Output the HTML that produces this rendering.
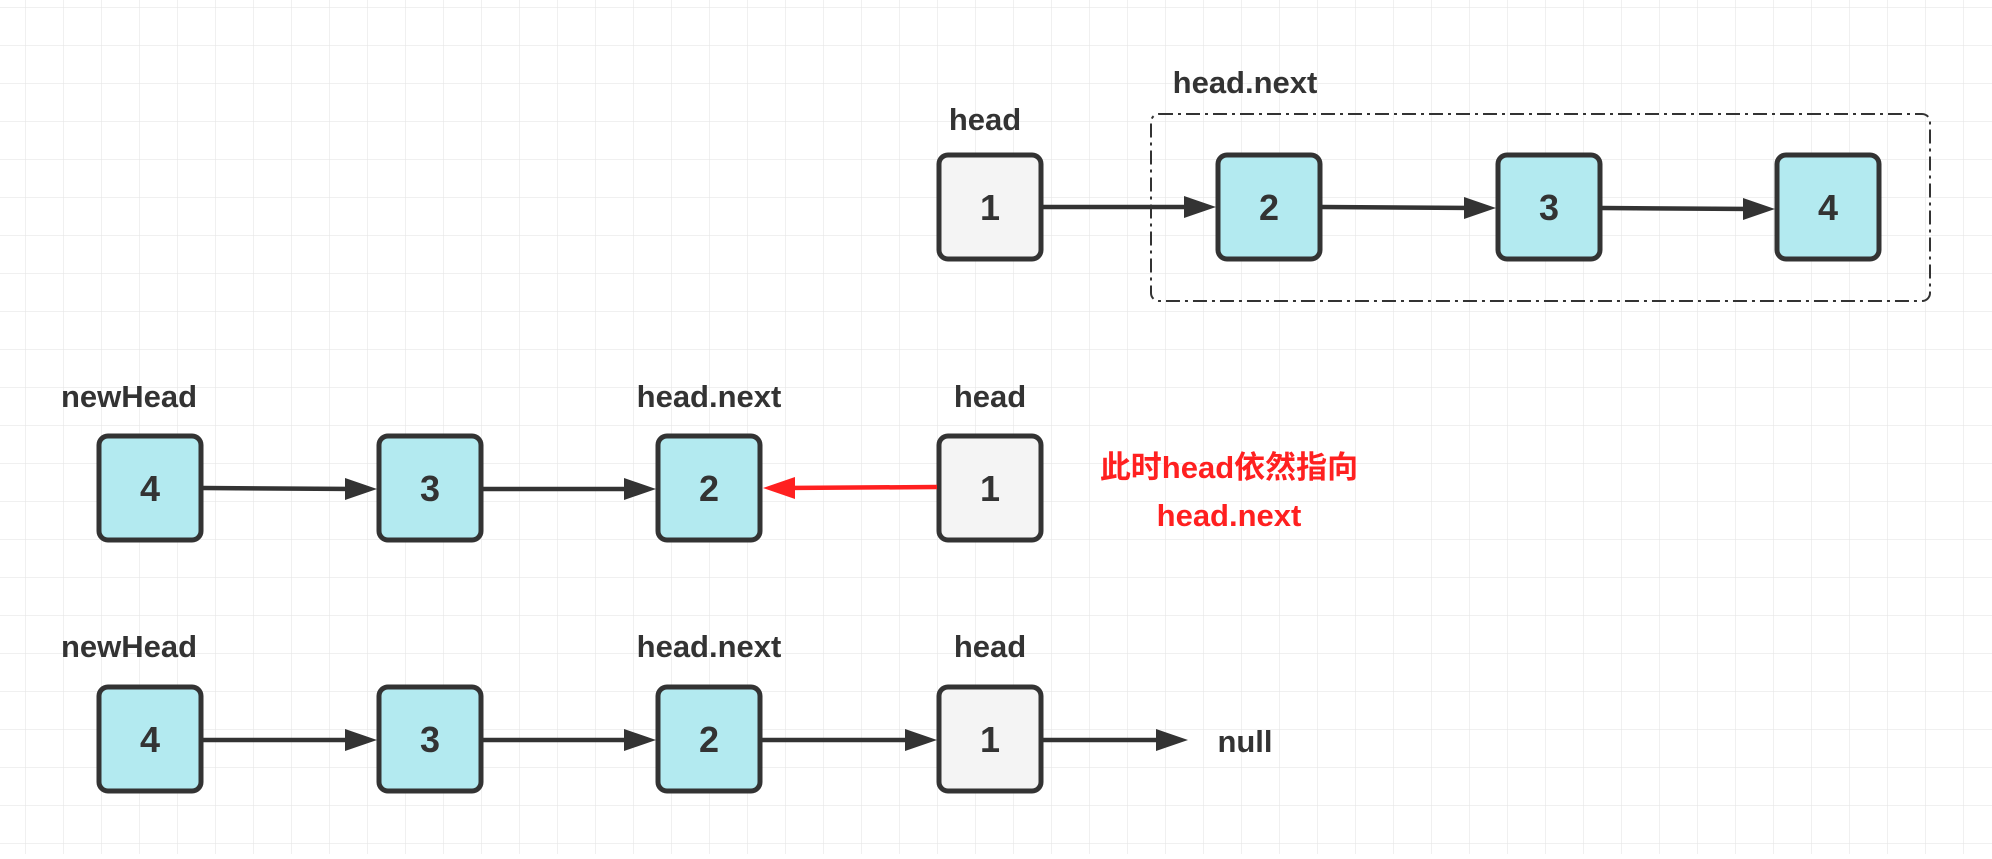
<!DOCTYPE html>
<html><head><meta charset="utf-8"><style>
html,body{margin:0;padding:0;}
body{width:1992px;height:854px;overflow:hidden;background:#fff;}
text{font-family:"Liberation Sans","Noto Sans CJK SC",sans-serif;font-weight:bold;fill:#333;}
</style></head><body>
<svg width="1992" height="854" xmlns="http://www.w3.org/2000/svg">
<defs>
<pattern id="g" x="25" y="7" width="38" height="38" patternUnits="userSpaceOnUse">
<path d="M0 0H38M0 0V38" stroke="#e6e6e6" stroke-width="1.2" fill="none"/>
</pattern>
<marker id="a" markerWidth="10" markerHeight="10" refX="9" refY="5" orient="auto" markerUnits="userSpaceOnUse" viewBox="0 0 10 10">
</marker>
</defs>
<rect width="1992" height="854" fill="url(#g)"/>
<g stroke="#333" stroke-width="5" fill="#b3eaf0">
<!-- row1 -->
<rect x="939" y="155" width="102" height="104" rx="9" fill="#f4f4f4"/>
<rect x="1218" y="155" width="102" height="104" rx="9"/>
<rect x="1498" y="155" width="102" height="104" rx="9"/>
<rect x="1777" y="155" width="102" height="104" rx="9"/>
<!-- row2 -->
<rect x="99" y="436" width="102" height="104" rx="9"/>
<rect x="379" y="436" width="102" height="104" rx="9"/>
<rect x="658" y="436" width="102" height="104" rx="9"/>
<rect x="939" y="436" width="102" height="104" rx="9" fill="#f4f4f4"/>
<!-- row3 -->
<rect x="99" y="687" width="102" height="104" rx="9"/>
<rect x="379" y="687" width="102" height="104" rx="9"/>
<rect x="658" y="687" width="102" height="104" rx="9"/>
<rect x="939" y="687" width="102" height="104" rx="9" fill="#f4f4f4"/>
</g>
<rect x="1151" y="114" width="779" height="187" rx="8" fill="none" stroke="#333" stroke-width="2" stroke-dasharray="14,5,3,5"/>
<g stroke="#333" stroke-width="4.5" fill="#333">
<line x1="1043" y1="207" x2="1196" y2="207"/><path d="M1216 207 L1184 196 L1184 218Z" stroke="none"/>
<line x1="1322" y1="207" x2="1476" y2="208"/><path d="M1496 208 L1464 197 L1464 219Z" stroke="none"/>
<line x1="1602" y1="208" x2="1755" y2="209"/><path d="M1775 209 L1743 198 L1743 220Z" stroke="none"/>

<line x1="203" y1="488" x2="357" y2="489"/><path d="M377 489 L345 478 L345 500Z" stroke="none"/>
<line x1="483" y1="489" x2="636" y2="489"/><path d="M656 489 L624 478 L624 500Z" stroke="none"/>

<line x1="203" y1="740" x2="357" y2="740"/><path d="M377 740 L345 729 L345 751Z" stroke="none"/>
<line x1="483" y1="740" x2="636" y2="740"/><path d="M656 740 L624 729 L624 751Z" stroke="none"/>
<line x1="762" y1="740" x2="917" y2="740"/><path d="M937 740 L905 729 L905 751Z" stroke="none"/>
<line x1="1043" y1="740" x2="1168" y2="740"/><path d="M1188 740 L1156 729 L1156 751Z" stroke="none"/>
</g>
<g stroke="#ff2020" stroke-width="4.5" fill="#ff2020">
<line x1="937" y1="487" x2="784" y2="488"/><path d="M763 488 L795 477 L795 499Z" stroke="none"/>
</g>
<g font-size="36" text-anchor="middle">
<text x="990" y="220">1</text><text x="1269" y="220">2</text><text x="1549" y="220">3</text><text x="1828" y="220">4</text>
<text x="150" y="501">4</text><text x="430" y="501">3</text><text x="709" y="501">2</text><text x="990" y="501">1</text>
<text x="150" y="752">4</text><text x="430" y="752">3</text><text x="709" y="752">2</text><text x="990" y="752">1</text>
</g>
<g font-size="31" text-anchor="middle">
<text x="985" y="130">head</text>
<text x="1245" y="93">head.next</text>
<text x="129" y="407">newHead</text>
<text x="709" y="407">head.next</text>
<text x="990" y="407">head</text>
<text x="129" y="657">newHead</text>
<text x="709" y="657">head.next</text>
<text x="990" y="657">head</text>
<text x="1245" y="752">null</text>
<text x="1229" y="478" style="fill:#ff2020">此时head依然指向</text>
<text x="1229" y="526" style="fill:#ff2020">head.next</text>
</g>
</svg>
</body></html>
